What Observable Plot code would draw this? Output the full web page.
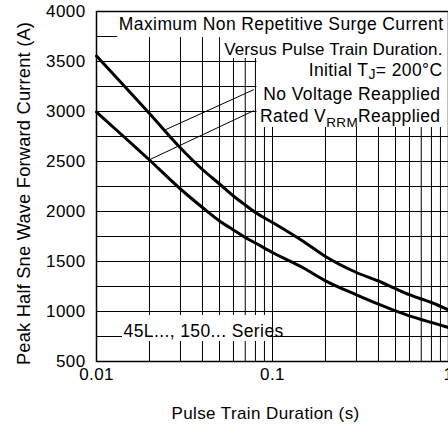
<!DOCTYPE html>
<html>
<head>
<meta charset="utf-8">
<script src="https://cdn.jsdelivr.net/npm/d3@7"></script>
<script src="https://cdn.jsdelivr.net/npm/@observablehq/plot@0.6"></script>
<style>
  html, body { margin: 0; padding: 0; background: #fff; }
  #chart svg { display: block; overflow: visible; }
</style>
</head>
<body>
<div id="chart"></div>
<script>
// ---- data ----
const xTicks = [0.01, 0.1, 1];
const xTickLabels = ["0.01", "0.1", "1"];
const xGrid = [0.02, 0.03, 0.04, 0.05, 0.06, 0.07, 0.08, 0.09, 0.1, 0.2, 0.3, 0.4, 0.5, 0.6, 0.7, 0.8, 0.9];
const yTicks = [500, 1000, 1500, 2000, 2500, 3000, 3500, 4000];
const yGrid = [750, 1000, 1250, 1500, 1750, 2000, 2250, 2500, 2750, 3000, 3250, 3500, 3750];

const duration = [0.01, 0.015, 0.02, 0.03, 0.04, 0.05, 0.06, 0.07, 0.08, 0.1, 0.15, 0.2, 0.3, 0.4, 0.5, 0.6, 0.7, 0.8, 1.0];
const noVoltageReapplied = [3555, 3220, 2980, 2635, 2420, 2275, 2155, 2065, 1990, 1890, 1700, 1550, 1390, 1305, 1228, 1168, 1125, 1090, 1015];
const ratedVrrmReapplied = [2995, 2715, 2515, 2225, 2040, 1905, 1815, 1740, 1685, 1590, 1435, 1307, 1167, 1074, 1007, 957, 920, 890, 840];

// leader lines from the labels to the curves (data units)
const leaderNoVoltage = [{t: 0.078, I: 3217}, {t: 0.0241, I: 2810}];
const leaderRated = [{t: 0.078, I: 3007}, {t: 0.0198, I: 2514}];

// white label backgrounds that interrupt the grid (data units)
const labelBoxes = [
  {t1: 0.0132, t2: 1, I1: 3740, I2: 4000},
  {t1: 0.0506, t2: 1, I1: 3530, I2: 3740},
  {t1: 0.0816, t2: 1, I1: 2840, I2: 3530},
  {t1: 0.01405, t2: 0.0961, I1: 700, I2: 960}
];

const titleLines = ["Maximum Non Repetitive Surge Current", "Versus Pulse Train Duration."];
const conditionText = "Initial TJ= 200°C";
const seriesLabels = ["No Voltage Reapplied", "Rated VRRM Reapplied"];
const partText = "45L..., 150... Series";
const xLabel = "Pulse Train Duration (s)";
const yLabel = "Peak Half Sne Wave Forward Current (A)";

// ---- build table ----
const curves = [];
duration.forEach((t, i) => {
  curves.push({series: "No Voltage Reapplied", t, I: noVoltageReapplied[i]});
  curves.push({series: "Rated VRRM Reapplied", t, I: ratedVrrmReapplied[i]});
});
const leaders = [
  ...leaderNoVoltage.map(d => ({...d, id: "a"})),
  ...leaderRated.map(d => ({...d, id: "b"}))
];
const tickLabelMap = new Map(xTicks.map((v, i) => [v, xTickLabels[i]]));

const ann = {fontSize: 17.5, textAnchor: "end", lineAnchor: "middle", fill: "black", text: d => d};

const chart = Plot.plot({
  width: 448,
  height: 428,
  marginLeft: 96,
  marginRight: 0,
  marginTop: 11,
  marginBottom: 67,
  style: {
    fontFamily: "'Liberation Sans', Arial, sans-serif",
    fontSize: "17px",
    letterSpacing: "0.4px",
    background: "white",
    color: "black",
    overflow: "visible"
  },
  x: {type: "log", domain: [0.01, 1]},
  y: {domain: [500, 4000]},
  marks: [
    Plot.ruleX(xGrid, {stroke: "black", strokeWidth: 1, strokeOpacity: 1}),
    Plot.ruleY(yGrid, {stroke: "black", strokeWidth: 1, strokeOpacity: 1}),
    Plot.rect(labelBoxes, {x1: "t1", x2: "t2", y1: "I1", y2: "I2", fill: "white"}),
    Plot.frame({stroke: "black", strokeWidth: 1.5}),
    Plot.line(curves, {x: "t", y: "I", z: "series", stroke: "black", strokeWidth: 3, curve: "monotone-x"}),
    Plot.line(leaders, {x: "t", y: "I", z: "id", stroke: "black", strokeWidth: 1}),
    Plot.axisX(xTicks, {tickSize: 0, tickPadding: 6, tickFormat: d => tickLabelMap.get(d), label: null}),
    Plot.axisY(yTicks, {tickSize: 0, tickPadding: 11, tickFormat: d => String(d), label: null}),
    Plot.text([titleLines[0]], {...ann, frameAnchor: "top-right", dx: -5, dy: 13}),
    Plot.text([titleLines[1]], {...ann, fontSize: 17, frameAnchor: "top-right", dx: -6, dy: 38}),
    Plot.text([conditionText], {...ann, frameAnchor: "top-right", dx: -6, dy: 58.5}),
    Plot.text([seriesLabels[0]], {...ann, frameAnchor: "top-right", dx: -8, dy: 83}),
    Plot.text([seriesLabels[1]], {...ann, frameAnchor: "top-right", dx: -8, dy: 104.5}),
    Plot.text([partText], {...ann, textAnchor: "start", frameAnchor: "bottom-left", dx: 27, dy: -30.5}),
    Plot.text([xLabel], {text: d => d, frameAnchor: "bottom", textAnchor: "middle", dx: -7, dy: 52, lineAnchor: "middle", fontSize: 17, fill: "black"}),
    Plot.text([yLabel], {text: d => d, frameAnchor: "left", textAnchor: "middle", rotate: -90, dx: -72, dy: 7, lineAnchor: "middle", fontSize: 18.3, fill: "black"})
  ]
});

document.getElementById("chart").appendChild(chart);

// per-label letter spacing and subscripts
d3.select(chart).selectAll("text").each(function () {
  const s = this.textContent;
  const sel = d3.select(this);
  if (s === titleLines[1]) {
    sel.style("letter-spacing", "0.1px");
  } else if (s === yLabel) {
    sel.style("letter-spacing", "0.2px");
  } else if (s === conditionText) {
    sel.text(null);
    sel.append("tspan").text("Initial T");
    sel.append("tspan").attr("dy", 3.5).attr("font-size", 14).text("J");
    sel.append("tspan").attr("dy", -3.5).text("= 200°C");
  } else if (s === seriesLabels[1]) {
    sel.text(null);
    sel.append("tspan").text("Rated V");
    sel.append("tspan").attr("dy", 5.5).attr("font-size", 13.5).text("RRM");
    sel.append("tspan").attr("dy", -5.5).text("Reapplied");
  }
});
</script>
</body>
</html>
